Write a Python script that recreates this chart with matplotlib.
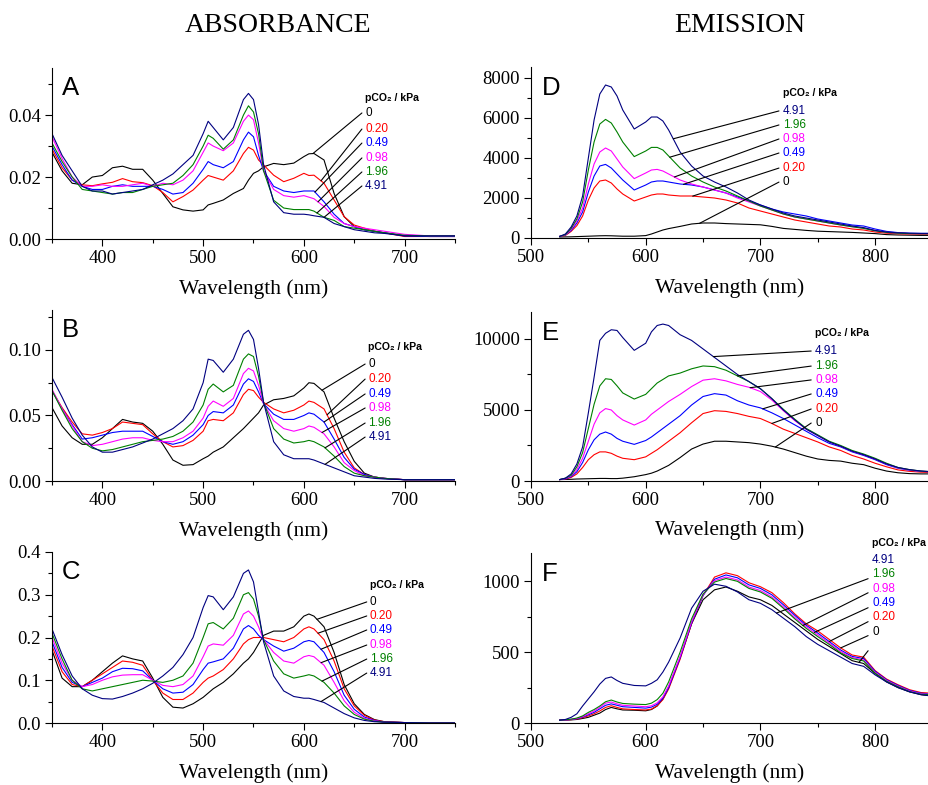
import numpy as np
import matplotlib
matplotlib.use('Agg')
import matplotlib.pyplot as plt
from matplotlib.ticker import MultipleLocator, FormatStrFormatter

# ---------------- data ----------------
pco2_labels = ['0', '0.20', '0.49', '0.98', '1.96', '4.91']
colors = ['#000000', '#ff0000', '#0000ff', '#ff00ff', '#008000', '#000080']

abs_wl = [350, 360, 370, 380, 390, 400, 410, 420, 430, 440, 450, 460, 470, 480, 490, 500,
          505, 510, 520, 530, 540, 545, 550, 555, 560, 570, 580, 590, 600, 605, 610,
          620, 630, 640, 650, 660, 670, 680, 700, 725, 750]

# Panel A
a_0 = [.028, .022, .018, .0175, .020, .0205, .023, .0235, .0225, .0225, .019, .0147, .0104, .0094, .009, .0094,
       .011, .0115, .0126, .0147, .0163, .019, .0212, .022, .0233, .0244, .024, .0245, .0266, .0275, .0276,
       .0255, .0147, .0072, .004, .003, .0025, .002, .001, .001, .001]
a_020 = [.029, .023, .019, .0175, .0172, .0178, .0183, .0195, .0185, .0182, .0172, .015, .012, .0137, .0158, .019,
         .0205, .020, .019, .022, .0276, .0296, .0287, .0255, .0239, .0206, .0185, .0196, .0212, .0205, .0206,
         .018, .0126, .0072, .0045, .0035, .0025, .002, .0008, .0008, .0008]
a_049 = [.030, .024, .019, .017, .016, .016, .017, .0175, .017, .017, .017, .016, .0145, .015, .018, .0225,
         .025, .024, .023, .025, .032, .0345, .033, .027, .022, .017, .0155, .015, .0155, .0155, .0155,
         .012, .008, .005, .004, .003, .0025, .002, .001, .0008, .0008]
a_098 = [.033, .026, .020, .017, .017, .0175, .017, .017, .0175, .018, .017, .018, .0175, .019, .022, .028,
         .031, .030, .0285, .031, .038, .040, .0385, .031, .022, .016, .014, .0135, .014, .0135, .013,
         .0105, .007, .005, .004, .0035, .003, .0025, .0015, .001, .001]
a_196 = [.031, .025, .020, .016, .0155, .015, .0145, .015, .015, .016, .017, .0175, .018, .0205, .024, .030,
         .0335, .0325, .029, .032, .040, .043, .041, .034, .022, .0125, .010, .0095, .0095, .0095, .009,
         .007, .006, .004, .0035, .003, .0025, .002, .0012, .001, .001]
a_491 = [.034, .027, .022, .017, .0155, .0155, .0145, .015, .0155, .016, .0175, .019, .021, .024, .027, .034,
         .038, .036, .032, .036, .045, .047, .045, .037, .024, .012, .0085, .008, .008, .0078, .0075,
         .007, .005, .004, .003, .0025, .002, .0018, .001, .001, .001]

# Panel B
b_0 = [.056, .042, .033, .028, .028, .033, .040, .047, .045, .044, .038, .028, .016, .012, .0125, .017,
       .019, .022, .026, .033, .040, .044, .048, .052, .058, .062, .063, .065, .071, .075, .0745,
       .068, .048, .030, .015, .006, .003, .002, .001, .001, .001]
b_020 = [.069, .056, .045, .036, .035, .037, .040, .045, .044, .043, .036, .030, .026, .027, .031, .038,
         .046, .047, .046, .052, .066, .070, .069, .064, .060, .055, .052, .054, .058, .061, .060,
         .055, .040, .022, .010, .005, .003, .002, .001, .001, .001]
b_049 = [.069, .055, .043, .032, .033, .035, .037, .038, .038, .038, .034, .030, .028, .030, .035, .043,
         .050, .053, .052, .058, .074, .078, .076, .068, .059, .051, .047, .047, .050, .052, .051,
         .045, .032, .018, .009, .005, .003, .002, .001, .001, .001]
b_098 = [.070, .055, .042, .030, .027, .028, .030, .032, .033, .033, .031, .030, .030, .033, .038, .048,
         .057, .061, .057, .063, .082, .086, .084, .073, .059, .046, .040, .038, .040, .042, .041,
         .036, .026, .014, .008, .004, .003, .002, .001, .001, .001]
b_196 = [.069, .054, .040, .030, .025, .023, .024, .026, .028, .030, .031, .032, .034, .038, .045, .058,
         .070, .074, .068, .073, .093, .097, .095, .080, .060, .040, .032, .029, .030, .031, .030,
         .026, .019, .011, .006, .004, .003, .002, .001, .001, .001]
b_491 = [.079, .064, .048, .035, .026, .022, .022, .024, .026, .029, .032, .036, .040, .046, .055, .075,
         .093, .092, .083, .093, .112, .115, .108, .086, .060, .030, .020, .017, .017, .017, .016,
         .013, .010, .007, .004, .003, .002, .0015, .001, .001, .001]

# Panel C
c_0 = [.17, .105, .085, .085, .10, .12, .14, .157, .15, .145, .105, .06, .037, .035, .045, .06,
       .07, .08, .095, .115, .14, .15, .165, .185, .205, .215, .215, .225, .25, .255, .25,
       .225, .165, .09, .045, .02, .008, .003, .001, .0, .0]
c_020 = [.18, .12, .09, .085, .10, .115, .13, .145, .142, .135, .10, .07, .055, .055, .07, .095,
         .105, .11, .125, .15, .185, .195, .2, .2, .2, .195, .19, .2, .22, .225, .22,
         .195, .145, .08, .04, .018, .007, .003, .001, .0, .0]
c_049 = [.19, .13, .095, .085, .095, .105, .12, .128, .127, .122, .10, .08, .07, .072, .09, .125,
         .14, .143, .15, .175, .22, .228, .22, .205, .195, .18, .168, .175, .19, .193, .19,
         .165, .12, .065, .032, .014, .006, .002, .001, .0, .0]
c_098 = [.20, .14, .10, .085, .09, .10, .108, .112, .113, .113, .10, .088, .085, .09, .11, .155,
         .18, .185, .182, .205, .255, .262, .25, .225, .195, .165, .145, .14, .155, .158, .155,
         .135, .095, .052, .025, .011, .005, .002, .001, .0, .0]
c_196 = [.21, .15, .10, .08, .075, .08, .085, .09, .095, .10, .098, .095, .10, .11, .14, .2,
         .232, .235, .22, .245, .3, .305, .29, .25, .195, .145, .115, .105, .11, .113, .11,
         .095, .07, .04, .02, .009, .004, .002, .001, .0, .0]
c_491 = [.22, .16, .11, .08, .065, .057, .056, .062, .07, .08, .093, .11, .13, .16, .2, .27,
         .298, .295, .265, .295, .35, .358, .33, .26, .19, .11, .075, .062, .058, .058, .055,
         .048, .035, .022, .012, .006, .003, .002, .001, .0, .0]

em_wl = [525, 530, 535, 540, 545, 550, 555, 560, 565, 570, 575, 580, 590, 600, 605, 610, 615, 620,
         630, 640, 650, 660, 670, 680, 690, 700, 710, 720, 730, 740, 750, 760, 770, 780, 790, 800,
         810, 820, 830, 840, 850]

# Panel D
d_491 = [80, 200, 550, 1100, 2100, 4000, 5900, 7200, 7650, 7550, 7100, 6400, 5450, 5800, 6050, 6050, 5850, 5400,
         4300, 3600, 3100, 2800, 2550, 2250, 1900, 1650, 1450, 1250, 1100, 1000, 900, 800, 700, 600, 520, 380,
         300, 260, 240, 230, 230]
d_196 = [80, 170, 480, 950, 1800, 3400, 4800, 5700, 5930, 5750, 5300, 4800, 4070, 4350, 4530, 4530, 4400, 4100,
         3500, 3100, 2800, 2550, 2350, 2100, 1850, 1600, 1400, 1200, 1050, 950, 850, 750, 650, 560, 480, 360,
         280, 240, 220, 210, 210]
d_098 = [80, 160, 430, 850, 1500, 2700, 3700, 4300, 4500, 4350, 3950, 3550, 2970, 3250, 3400, 3430, 3350, 3200,
         2900, 2700, 2550, 2400, 2250, 2000, 1800, 1600, 1400, 1200, 1050, 950, 850, 750, 650, 570, 500, 370,
         280, 240, 220, 210, 210]
d_049 = [80, 150, 380, 750, 1300, 2300, 3100, 3600, 3680, 3500, 3200, 2900, 2400, 2650, 2800, 2850, 2850, 2800,
         2700, 2650, 2550, 2400, 2250, 2050, 1850, 1650, 1450, 1300, 1200, 1100, 950, 850, 750, 650, 600, 450,
         330, 270, 240, 230, 230]
d_020 = [80, 130, 330, 620, 1100, 1900, 2500, 2850, 2900, 2750, 2450, 2200, 1850, 2050, 2150, 2200, 2200, 2150,
         2100, 2100, 2050, 2000, 1900, 1750, 1500, 1350, 1200, 1050, 900, 800, 700, 600, 550, 450, 400, 300,
         240, 210, 200, 190, 190]
d_0 = [50, 55, 60, 70, 80, 90, 100, 110, 115, 110, 100, 90, 90, 120, 200, 300, 400, 470,
       580, 700, 750, 750, 720, 700, 680, 660, 580, 480, 430, 380, 340, 320, 300, 280, 250, 220,
       170, 150, 140, 130, 130]

# Panel E
e_491 = [100, 200, 500, 1200, 2400, 4800, 7300, 9900, 10400, 10650, 10600, 10100, 9200, 9700, 10500, 10950, 11050, 10950,
         10300, 9900, 9300, 8700, 8100, 7500, 7000, 6500, 5800, 5000, 4300, 3650, 3200, 2750, 2450, 2100, 1850, 1550,
         1200, 950, 800, 700, 650]
e_196 = [100, 200, 400, 1000, 2000, 3700, 5400, 6700, 7200, 7150, 6700, 6200, 5770, 6100, 6500, 6900, 7150, 7400,
         7600, 7900, 8100, 8050, 7800, 7400, 7000, 6500, 5800, 5050, 4350, 3700, 3250, 2800, 2500, 2150, 1900, 1600,
         1250, 950, 800, 700, 650]
e_098 = [100, 180, 350, 800, 1600, 2800, 4000, 4800, 5100, 5000, 4600, 4300, 3940, 4300, 4700, 5000, 5300, 5600,
         6100, 6650, 7100, 7200, 7050, 6800, 6600, 6300, 5700, 4950, 4250, 3650, 3200, 2750, 2450, 2100, 1850, 1550,
         1200, 930, 780, 690, 650]
e_049 = [100, 150, 300, 650, 1300, 2200, 2900, 3300, 3450, 3300, 3000, 2800, 2580, 2850, 3100, 3400, 3700, 4000,
         4600, 5350, 5950, 6150, 6050, 5650, 5350, 5150, 4800, 4400, 3950, 3500, 3050, 2650, 2400, 2050, 1800, 1500,
         1150, 900, 760, 680, 640]
e_020 = [100, 130, 250, 500, 950, 1500, 1850, 2050, 2050, 1950, 1750, 1600, 1500, 1700, 1950, 2200, 2500, 2800,
         3400, 4100, 4750, 4950, 4900, 4750, 4550, 4400, 4050, 3650, 3350, 3050, 2750, 2400, 2150, 1800, 1550, 1250,
         1000, 780, 680, 620, 600]
e_0 = [100, 110, 120, 140, 150, 160, 170, 180, 180, 170, 170, 200, 300, 450, 550, 700, 900, 1100,
       1650, 2250, 2600, 2800, 2800, 2750, 2700, 2600, 2450, 2250, 2000, 1750, 1550, 1450, 1400, 1250, 1150, 900,
       700, 580, 520, 500, 500]

# Panel F
f_0 = [20, 20, 22, 25, 32, 40, 55, 70, 95, 110, 100, 92, 90, 86, 95, 120, 170, 250,
       460, 700, 870, 940, 960, 930, 890, 870, 830, 770, 710, 650, 590, 540, 490, 440, 420, 350,
       290, 250, 220, 200, 190]
f_020 = [20, 22, 24, 28, 38, 50, 65, 85, 110, 122, 110, 100, 95, 92, 98, 122, 165, 240,
         450, 700, 900, 1030, 1060, 1040, 990, 962, 920, 850, 770, 700, 650, 590, 530, 480, 465, 370,
         310, 270, 235, 215, 210]
f_049 = [20, 22, 25, 30, 42, 58, 75, 100, 125, 135, 125, 115, 110, 105, 112, 132, 175, 250,
         460, 705, 900, 1015, 1045, 1025, 975, 950, 905, 835, 760, 690, 635, 575, 515, 470, 455, 365,
         305, 265, 230, 210, 205]
f_098 = [20, 22, 26, 32, 45, 65, 85, 110, 140, 148, 135, 125, 120, 115, 122, 142, 185, 262,
         470, 715, 905, 1005, 1030, 1010, 960, 935, 890, 820, 745, 680, 622, 565, 505, 462, 445, 358,
         300, 260, 226, 206, 203]
f_196 = [20, 23, 27, 35, 50, 75, 95, 120, 150, 162, 148, 138, 133, 130, 140, 165, 210, 290,
         500, 735, 910, 995, 1020, 1000, 950, 925, 880, 810, 735, 668, 610, 555, 495, 455, 438, 352,
         295, 256, 222, 203, 200]
f_491 = [20, 25, 40, 65, 120, 170, 220, 275, 315, 325, 300, 280, 265, 262, 280, 305, 360, 430,
         600, 810, 930, 980, 965, 925, 870, 845, 800, 740, 680, 610, 555, 510, 465, 420, 400, 340,
         290, 250, 220, 200, 190]

# ---------------- figure ----------------
W, H = 929, 785
fig = plt.figure(figsize=(W / 100, H / 100), dpi=100)

serif = ['Liberation Serif', 'DejaVu Serif']
sans = ['Liberation Sans', 'DejaVu Sans']


def make_ax(left, top, right, bottom):
    return fig.add_axes([left / W, (H - bottom) / H, (right - left) / W, (bottom - top) / H])


def style(ax, xlim, ylim, xmaj, xmin, ymaj, ymin, yfmt):
    ax.set_xlim(*xlim)
    ax.set_ylim(*ylim)
    for s in ['top', 'right']:
        ax.spines[s].set_visible(False)
    for s in ['left', 'bottom']:
        ax.spines[s].set_linewidth(0.8)
    ax.xaxis.set_major_locator(MultipleLocator(xmaj))
    ax.xaxis.set_minor_locator(MultipleLocator(xmin))
    ax.yaxis.set_major_locator(MultipleLocator(ymaj))
    ax.yaxis.set_minor_locator(MultipleLocator(ymin))
    ax.yaxis.set_major_formatter(FormatStrFormatter(yfmt))
    ax.tick_params(which='major', direction='out', length=5, width=0.8, labelsize=13.5, pad=3)
    ax.tick_params(which='minor', direction='out', length=3, width=0.8)
    for lab in ax.get_xticklabels() + ax.get_yticklabels():
        lab.set_family(serif)
    ax.set_xlabel('Wavelength (nm)', family=serif, fontsize=15.5)
    ax.xaxis.set_label_coords(0.5, -0.235)


def annotate(ax, wl, series, order, tx, head_y, ys, targets, start_dx=-0.008, start_dy=0.0):
    ax.text(tx, head_y, 'pCO\u2082 / kPa', transform=ax.transAxes, fontsize=7.6,
            fontweight='bold', family=sans, ha='left', va='center')
    for idx, y, tw in zip(order, ys, targets):
        ax.text(tx, y, pco2_labels[idx], transform=ax.transAxes, fontsize=8.5,
                color=colors[idx], family=sans, ha='left', va='center')
        ty = np.interp(tw, wl, series[idx])
        ax.annotate('', xy=(tw, ty), xycoords='data',
                    xytext=(tx + start_dx, y + start_dy), textcoords='axes fraction',
                    arrowprops=dict(arrowstyle='-', lw=0.8, color='black',
                                    shrinkA=0, shrinkB=0))


def panel_letter(ax, letter, x, y):
    ax.text(x, y, letter, transform=ax.transAxes, fontsize=18.5, family=sans,
            ha='left', va='top')


axA = make_ax(52, 68, 455, 239)
axB = make_ax(52, 310, 455, 481)
axC = make_ax(52, 552, 455, 723)
axD = make_ax(531, 67, 929, 238)
axE = make_ax(531, 312, 929, 481)
axF = make_ax(531, 553, 929, 723)

abs_sets = [
    (axA, 'A', [a_0, a_020, a_049, a_098, a_196, a_491], (0, 0.0552), 0.02, 0.01, '%.2f',
     0.777, 0.825, [0.737, 0.643, 0.561, 0.474, 0.392, 0.31], [609, 617, 611, 614, 613, 620]),
    (axB, 'B', [b_0, b_020, b_049, b_098, b_196, b_491], (0, 0.1305), 0.05, 0.025, '%.2f',
     0.785, 0.784, [0.684, 0.596, 0.509, 0.427, 0.339, 0.257], [618, 623, 620, 618, 621, 621]),
    (axC, 'C', [c_0, c_020, c_049, c_098, c_196, c_491], (0, 0.4), 0.1, 0.05, '%.1f',
     0.789, 0.807, [0.708, 0.626, 0.544, 0.456, 0.374, 0.292], [613, 614, 617, 617, 618, 617]),
]
for ax, letter, series, ylim, ymaj, ymin, fmt, tx, hy, ys, tg in abs_sets:
    for s, c in zip(series, colors):
        ax.plot(abs_wl, s, color=c, lw=0.8)
    style(ax, (350, 750), ylim, 100, 50, ymaj, ymin, fmt)
    panel_letter(ax, letter, 0.025, 0.955)
    annotate(ax, abs_wl, series, [0, 1, 2, 3, 4, 5], tx, hy, ys, tg)

em_sets = [
    (axD, 'D', [d_0, d_020, d_049, d_098, d_196, d_491], (0, 8550), 2000, 1000,
     0.633, 0.848, [0.743, 0.661, 0.579, 0.497, 0.409, 0.327], [624, 621, 625, 633, 641, 647], 0.0),
    (axE, 'E', [e_0, e_020, e_049, e_098, e_196, e_491], (0, 11900), 5000, 2500,
     0.714, 0.876, [0.769, 0.68, 0.598, 0.515, 0.426, 0.343], [659, 680, 691, 702, 710, 713], 0.0),
    (axF, 'F', [f_0, f_020, f_049, f_098, f_196, f_491], (0, 1200), 500, 250,
     0.857, 1.06, [0.959, 0.876, 0.788, 0.706, 0.624, 0.535], [714, 737, 747, 760, 770, 786], -0.11),
]
for ax, letter, series, ylim, ymaj, ymin, tx, hy, ys, tg, dy in em_sets:
    for s, c in zip(series, colors):
        ax.plot(em_wl, s, color=c, lw=0.8)
    style(ax, (500, 847), ylim, 100, 50, ymaj, ymin, '%d')
    panel_letter(ax, letter, 0.028, 0.945)
    annotate(ax, em_wl, series, [5, 4, 3, 2, 1, 0], tx, hy, ys, tg,
             start_dx=-0.01, start_dy=dy)

fig.text(278 / W, 1 - 25 / H, 'ABSORBANCE', family=serif, fontsize=20, ha='center', va='center')
fig.text(740 / W, 1 - 25 / H, 'EMISSION', family=serif, fontsize=20, ha='center', va='center')

fig.savefig('out.png', dpi=100)
